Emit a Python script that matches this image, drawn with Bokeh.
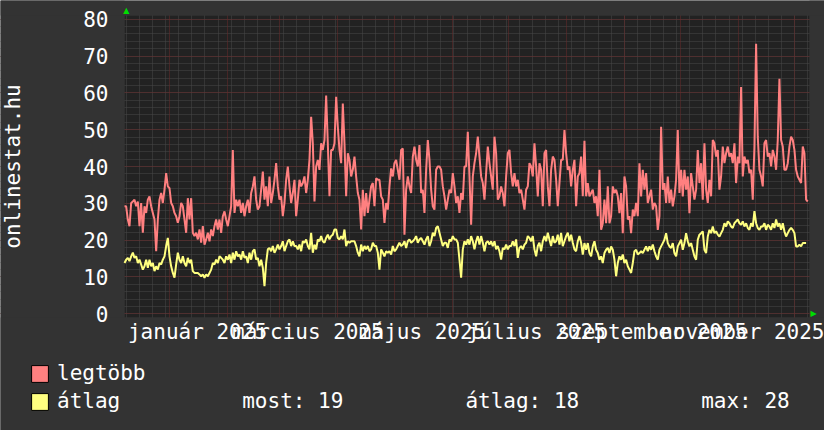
import numpy as np
import pandas as pd
from bokeh.plotting import figure
from bokeh.models import (Range1d, FixedTicker, Grid, Legend, LegendItem,
                          LinearAxis, BoxAnnotation)
from bokeh.embed import file_html
from bokeh.resources import INLINE

# ---------------- data ----------------
start_date = "2024-12-08"
end_date = "2025-12-09"
sample_hours = 21.37

legtobb = [
    29.2, 29.2, 25.6, 23.8, 30.1, 30.5, 31.0, 29.2, 30.5, 23.8,
    30.1, 22.0, 29.2, 27.4, 31.0, 31.9, 29.2, 27.4, 25.6, 17.0,
    25.6, 31.0, 32.8, 30.1, 33.7, 38.2, 34.6, 34.1, 30.1, 29.2,
    27.4, 26.5, 24.7, 26.5, 30.1, 29.2, 25.6, 22.0, 31.4, 25.6,
    31.4, 22.0, 21.1, 22.0, 20.2, 22.9, 19.3, 23.8, 18.8, 20.2,
    22.0, 19.7, 22.9, 21.1, 23.8, 25.6, 22.9, 25.6, 22.0, 26.5,
    27.8, 25.6, 23.8, 26.5, 29.2, 44.5, 27.4, 31.0, 29.2, 31.0,
    27.4, 30.1, 26.5, 29.2, 31.0, 27.4, 32.8, 34.6, 37.3, 31.0,
    28.3, 29.2, 33.7, 38.6, 31.0, 34.6, 29.2, 37.3, 30.1, 32.8,
    36.4, 40.9, 34.6, 31.0, 31.9, 26.5, 30.1, 36.4, 40.0, 34.6,
    30.1, 32.8, 36.4, 26.5, 31.0, 36.4, 34.6, 35.5, 37.3, 32.8,
    36.4, 41.8, 53.5, 46.3, 30.5, 40.0, 41.8, 39.1, 46.3, 44.5,
    47.2, 59.3, 46.3, 31.9, 44.5, 44.5, 46.3, 58.9, 50.8, 44.5,
    40.9, 57.1, 46.3, 31.9, 43.6, 41.8, 37.3, 39.1,
    42.7, 37.3, 32.8, 31.0, 22.9, 33.7, 26.5, 32.8, 27.4, 31.0,
    34.6, 35.5, 29.2, 36.8, 36.4, 36.4, 31.9, 31.0, 24.7, 30.1,
    28.3, 34.6, 39.5, 37.3, 40.9, 41.8, 39.1, 36.4, 44.5, 44.9,
    21.5, 33.7, 37.3, 34.6, 32.8, 42.7, 45.4, 41.8, 40.0, 45.8,
    32.8, 33.7, 27.4, 39.1, 47.2, 41.8, 33.7, 29.2, 28.3, 39.1,
    40.0, 40.0, 39.1, 34.6, 31.9, 28.3, 31.0, 33.7, 32.8, 38.2,
    34.6, 30.1, 31.9, 27.4, 32.8, 31.0, 40.0, 40.0, 49.4, 37.3,
    24.2, 37.3, 40.9, 43.6, 48.1, 42.7, 37.3, 35.5, 31.0, 38.2,
    45.4, 40.9, 37.3, 33.7, 48.1, 43.6, 31.0, 31.9, 34.6, 32.8,
    29.2, 37.3, 43.6, 44.5, 38.2, 34.6, 38.2, 34.6, 36.4, 32.8,
    33.7, 31.0, 28.3, 33.7, 34.6, 40.9, 40.0, 37.3, 46.3, 40.0,
    31.9, 40.9, 39.1, 29.2, 43.6, 44.5, 34.6, 29.2, 39.1, 42.7,
    41.8, 36.4, 29.2, 35.5, 41.8, 41.8, 49.9, 43.6, 39.1, 40.0,
    34.6, 39.1, 41.8, 29.2, 37.3, 38.2, 42.7, 31.9,
    47.0, 31.9, 35.5, 31.9, 32.8, 33.7, 30.1, 31.9, 26.5, 39.1,
    22.8, 24.6, 31.0, 24.6, 34.6, 24.6, 26.5, 34.6, 32.8, 33.7,
    31.9, 27.3, 32.8, 21.9, 37.3, 34.6, 25.6, 26.5, 21.9, 28.3,
    26.5, 30.1, 26.5, 40.9, 31.9, 39.1, 33.7, 38.2, 30.1, 31.9,
    33.7, 28.3, 30.1, 29.2, 22.8, 26.5, 50.8, 33.7, 35.5, 30.1,
    37.3, 30.1, 33.7, 29.2, 31.9, 36.4, 49.9, 32.8, 39.1, 31.9,
    39.1, 33.7, 37.3, 27.3, 38.2, 34.6, 31.0, 33.7, 44.5, 35.5,
    40.9, 31.0, 46.3, 33.7, 30.1, 36.4, 31.9, 47.2, 46.3, 42.7,
    44.5, 33.7, 37.3, 45.4, 40.9, 43.6, 45.4, 42.7, 43.6, 40.9,
    46.3, 35.5, 42.7, 40.9, 61.6, 37.3, 42.7, 40.9, 41.8, 38.2,
    39.1, 31.0, 45.4, 73.3, 48.1, 39.1, 37.3, 34.6, 46.3, 47.2,
    42.7, 43.6, 40.0, 44.5, 42.7, 39.1, 47.2, 63.8, 47.2, 45.4,
    39.1, 39.1, 40.9, 45.4, 48.1, 47.2, 44.5, 39.1, 37.3, 36.4,
    35.5, 45.4, 43.6, 31.0, 30.5,
]

atlag = [
    13.8, 14.7, 15.2, 14.3, 15.6, 16.6, 15.2, 15.6, 13.8, 14.7,
    13.4, 12.0, 12.9, 14.7, 12.5, 14.7, 12.9, 13.8, 11.6, 12.9,
    12.0, 13.8, 13.4, 14.7, 15.6, 18.4, 20.6, 15.6, 12.9, 11.1,
    9.8, 13.4, 16.6, 14.7, 13.8, 15.6, 13.8, 12.9, 15.2, 13.8,
    14.7, 11.6, 11.1, 11.1, 11.1, 10.7, 10.2, 10.7, 9.8, 10.7,
    10.2, 11.1, 12.0, 13.8, 13.4, 14.7, 13.8, 15.6, 15.2, 14.7,
    13.8, 15.6, 14.7, 16.1, 13.8, 16.6, 14.7, 17.0, 15.6, 16.1,
    14.7, 17.0, 15.2, 15.6, 13.8, 16.6, 14.7, 17.0, 17.5, 14.7,
    15.2, 12.9, 14.7, 12.5, 7.5, 13.8, 17.5, 17.9, 17.0, 18.4,
    16.6, 17.5, 18.8, 17.5, 18.4, 19.7, 17.0, 18.4, 19.7, 20.2,
    18.4, 19.7, 18.4, 18.4, 17.5, 18.8, 17.0, 19.7, 19.3, 20.2,
    18.4, 17.5, 22.0, 16.6, 18.8, 17.5, 20.2, 19.7, 21.1, 19.7,
    19.3, 20.6, 21.5, 20.2, 21.1, 21.5, 22.9, 22.9, 20.6, 20.2,
    21.1, 20.2, 22.9, 18.4, 19.7, 19.3, 19.7, 19.7,
    19.7, 18.4, 16.6, 15.6, 18.8, 17.0, 18.4, 17.5, 18.4, 17.0,
    17.5, 19.3, 18.4, 18.4, 16.6, 12.0, 17.5, 16.6, 15.6, 17.0,
    16.6, 17.0, 16.1, 18.4, 17.0, 17.5, 18.4, 19.3, 18.4, 18.8,
    19.7, 17.9, 19.7, 20.2, 19.3, 19.7, 20.2, 21.1, 19.3, 20.2,
    20.6, 19.7, 18.8, 20.2, 21.1, 18.4, 19.7, 22.0, 21.1, 23.3,
    23.8, 22.0, 20.2, 18.4, 19.3, 19.3, 17.9, 20.2, 19.7, 21.1,
    20.2, 20.2, 19.3, 14.7, 9.8, 17.5, 19.7, 18.8, 20.2, 18.8,
    21.1, 19.7, 17.5, 19.7, 21.1, 18.8, 21.1, 19.3, 17.0, 19.3,
    19.7, 18.8, 19.7, 18.4, 19.7, 17.5, 18.4, 17.0, 14.7, 17.9,
    17.5, 18.8, 17.5, 18.4, 18.4, 19.7, 18.4, 20.2, 15.2, 17.9,
    18.4, 17.5, 18.8, 19.3, 21.1, 20.6, 19.7, 21.1, 17.5, 15.6,
    18.4, 19.3, 17.0, 19.7, 21.1, 19.7, 22.0, 20.2, 18.4, 21.1,
    19.3, 19.7, 21.5, 18.8, 22.0, 18.4, 19.7, 21.1, 22.0, 19.7,
    21.5, 19.3, 17.5, 17.0, 19.7, 21.1, 19.3, 16.1,
    19.2, 17.4, 19.2, 16.5, 15.6, 18.3, 19.7, 17.4, 16.5, 14.7,
    15.6, 13.8, 16.5, 17.4, 17.9, 16.5, 18.3, 17.4, 14.7, 10.2,
    13.8, 15.6, 14.7, 16.1, 13.8, 14.7, 12.9, 12.0, 11.1, 13.8,
    17.0, 17.4, 16.1, 16.5, 17.0, 16.5, 17.4, 18.3, 17.0, 18.3,
    17.4, 18.8, 17.0, 15.6, 14.7, 17.4, 18.3, 19.2, 20.1, 21.9,
    19.2, 18.3, 17.9, 19.2, 16.5, 15.6, 18.3, 19.2, 20.1, 17.4,
    19.2, 21.9, 19.7, 18.3, 19.2, 17.4, 15.6, 14.7, 20.1, 21.5,
    21.9, 22.4, 17.4, 16.5, 21.0, 22.8, 21.9, 23.7, 21.9, 22.4,
    21.5, 21.0, 21.9, 22.8, 24.6, 23.7, 25.1, 24.6, 23.7, 23.3,
    24.6, 25.1, 25.6, 24.6, 24.2, 25.1, 23.7, 24.6, 23.3, 22.8,
    24.6, 23.7, 27.9, 24.6, 23.3, 22.8, 23.7, 23.7, 24.6, 22.8,
    24.2, 23.7, 22.8, 24.6, 23.3, 25.6, 23.7, 24.6, 22.8, 24.6,
    22.4, 21.0, 21.9, 22.8, 23.3, 22.8, 21.9, 18.3, 18.3, 18.8,
    18.3, 19.2, 19.2, 19.2,
]

label_dates = ["2025-01-16", "2025-03-16", "2025-05-16",
               "2025-07-16", "2025-09-16", "2025-11-16"]
label_texts = ["január 2025", "március 2025", "május 2025",
               "július 2025", "szeptember 2025", "november 2025"]
y_ticks = [0, 10, 20, 30, 40, 50, 60, 70, 80]
y_min, y_max = -1, 81
series_names = ["legtöbb", "átlag"]
stat_names = ["most", "átlag", "max"]
stat_values = [19, 18, 28]

# ---------------- helpers ----------------
t0 = pd.Timestamp(start_date)


def day_of(d):
    return (pd.Timestamp(d) - t0) / pd.Timedelta(days=1)


total_days = day_of(end_date)
x_red = np.arange(len(legtobb)) * sample_hours / 24.0
x_yel = np.arange(len(atlag)) * sample_hours / 24.0

month_lines = [day_of(d) for d in pd.date_range("2025-01-01", end_date, freq="MS")]
week_lines = [day_of(d) for d in pd.date_range(start_date, end_date, freq="W-MON")]
label_pos = [int(round(day_of(d))) for d in label_dates]

# page geometry (pixels): plotting canvas 124..809 x 15..317 inside 824x430
W, H = 824, 430
CL, CR, CT, CB = 124, 809, 15, 317
px_per_day = (CR - CL) / total_days
px_per_unit = (CB - CT) / (y_max - y_min)
x_lo = -CL / px_per_day
x_hi = total_days + (W - CR) / px_per_day
y_hi = y_max + CT / px_per_unit
y_lo = y_min - (H - CB) / px_per_unit

FONT = "DejaVu Sans Mono"
FS = "21px"
RED = "#ff8080"
YEL = "#ffff80"
GREEN = "#00dd00"
BACK = "#333333"
CANVAS = "#222222"
MINOR = "#484848"
MAJOR = "#6a2a2a"

p = figure(frame_width=W, frame_height=H, min_border=0,
           x_range=Range1d(x_lo, x_hi), y_range=Range1d(y_lo, y_hi),
           output_backend="svg", toolbar_location=None,
           background_fill_color=BACK, border_fill_color=BACK,
           outline_line_color=None)
p.grid.grid_line_color = None

# dark plotting canvas
p.add_layout(BoxAnnotation(left=0, right=total_days, bottom=y_min, top=y_max,
                           fill_color=CANVAS, fill_alpha=1, line_color=None,
                           level="underlay"))

# grids
p.add_layout(Grid(dimension=0, ticker=FixedTicker(ticks=week_lines),
                  grid_line_color=MINOR, grid_line_dash="1 1"))
p.add_layout(Grid(dimension=1, ticker=FixedTicker(ticks=list(range(0, 81, 2))),
                  grid_line_color=MINOR, grid_line_dash="1 1"))
p.add_layout(Grid(dimension=0, ticker=FixedTicker(ticks=month_lines),
                  grid_line_color=MAJOR, grid_line_dash="1 1"))
p.add_layout(Grid(dimension=1, ticker=FixedTicker(ticks=y_ticks),
                  grid_line_color=MAJOR, grid_line_dash="1 1"))

# mask grid lines outside the canvas
for kw in (dict(right=0), dict(left=total_days),
           dict(bottom=y_max), dict(top=y_min)):
    p.add_layout(BoxAnnotation(fill_color=BACK, fill_alpha=1, line_color=None,
                               level="underlay", **kw))


def style_axis(ax, size=FS, color="white", font=FONT):
    ax.axis_line_color = None
    ax.major_tick_line_color = None
    ax.minor_tick_line_color = None
    ax.major_tick_out = 0
    ax.major_tick_in = 0
    ax.minor_tick_out = 0
    ax.major_label_text_font = font
    ax.major_label_text_font_size = size
    ax.major_label_text_color = color


xa = p.xaxis[0]
ya = p.yaxis[0]
style_axis(xa)
style_axis(ya)

xa.fixed_location = y_min
xa.bounds = (0, total_days)
xa.ticker = FixedTicker(ticks=label_pos)
xa.major_label_overrides = {k: t for k, t in zip(label_pos, label_texts)}
xa.major_label_standoff = 2

ya.fixed_location = 0
ya.bounds = (y_min, y_max)
ya.ticker = FixedTicker(ticks=y_ticks)
ya.major_label_standoff = 16
ya.axis_label = "onlinestat.hu"
ya.axis_label_text_font = FONT
ya.axis_label_text_font_size = FS
ya.axis_label_text_font_style = "normal"
ya.axis_label_text_color = "white"
ya.axis_label_standoff = 55

# small green axis arrows (as single-tick axes)
top_arrow = LinearAxis(ticker=FixedTicker(ticks=[1]),
                       major_label_overrides={1: "▲"},
                       major_label_standoff=1, fixed_location=y_max)
style_axis(top_arrow, size="8px", color=GREEN, font="DejaVu Sans")
p.add_layout(top_arrow, "above")

right_arrow = LinearAxis(ticker=FixedTicker(ticks=[0]),
                         major_label_overrides={0: "▶"},
                         major_label_standoff=1, fixed_location=total_days)
style_axis(right_arrow, size="8px", color=GREEN, font="DejaVu Sans")
p.add_layout(right_arrow, "right")

# series
p.line(x_red, legtobb, line_color=RED, line_width=2)
p.line(x_yel, atlag, line_color=YEL, line_width=2)

# ---------------- legend ----------------
nan = [np.nan]
sw_red = p.quad(left=nan, right=nan, top=nan, bottom=nan,
                fill_color=RED, line_color="black", line_width=1)
sw_yel = p.quad(left=nan, right=nan, top=nan, bottom=nan,
                fill_color=YEL, line_color="black", line_width=1)

common = dict(orientation="horizontal", glyph_width=21, glyph_height=21,
              label_standoff=7, padding=0, margin=0, label_height=26,
              background_fill_alpha=0, border_line_alpha=0,
              label_text_font=FONT, label_text_font_size=FS,
              label_text_color="white", spacing=94)

legend1 = Legend(items=[LegendItem(label=series_names[0], renderers=[sw_red])],
                 location=(29, 44), **common)
stat_items = [LegendItem(label=series_names[1], renderers=[sw_yel])]
stat_items += [LegendItem(label=f"{n}: {v}") for n, v in zip(stat_names, stat_values)]
legend2 = Legend(items=stat_items, location=(29, 16), **common)

p.add_layout(legend1)
p.add_layout(legend2)

open("out.html", "w").write(file_html(p, INLINE))
